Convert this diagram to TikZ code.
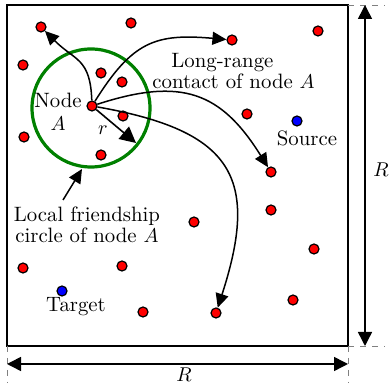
\documentclass[tikz,border=0pt]{standalone}
\usetikzlibrary{arrows.meta}
\definecolor{circgreen}{RGB}{0,128,0}
\begin{document}
\begin{tikzpicture}[x=0.5pt,y=-0.5pt,
  dot/.style={circle,draw=black,fill=red,line width=0.6pt,inner sep=0pt,minimum size=5pt},
  bdot/.style={dot,fill=blue},
  arr/.style={-{Triangle[length=7pt,width=6.5pt]},line width=0.75pt},
  dimarr/.style={{Triangle[length=7pt,width=7pt]}-{Triangle[length=7pt,width=7pt]},line width=0.75pt},
  guide/.style={dashed,gray,line width=0.4pt},
  lbl/.style={font=\fontsize{10.4}{10.5}\selectfont,inner sep=0pt,align=center}]
\useasboundingbox (0,0) rectangle (391,383);
% frame
\draw[line width=0.9pt] (7,5) rectangle (348,346);
% guide lines
\coordinate (tr) at (348,5);
\coordinate (br) at (348,346);
\coordinate (bl) at (7,346);
\draw[guide] (tr) -- (385,5);
\draw[guide] (br) -- (385,346);
\draw[guide] (br) -- (348,383);
\draw[guide] (bl) -- (7,383);
% dimension arrows
\coordinate (vt) at (365,5);
\coordinate (vb) at (365,346);
\coordinate (hl) at (7,364);
\coordinate (hr) at (348,364);
\draw[dimarr] (vt) -- (vb);
\draw[dimarr] (hl) -- (hr);
\node[lbl] (Rv) at (381,170) {$R$};
\node[lbl] (Rh) at (184,375) {$R$};
% circle
\draw[circgreen,line width=1.6pt] (91,108) circle[radius=59];
% dots
\node[dot] (A) at (92,106) {};
\node[dot] (d1) at (41,27) {};
\node[dot] (d2) at (131,23) {};
\node[dot] (d3) at (23,65) {};
\node[dot] (d4) at (101,73) {};
\node[dot] (d5) at (122,82) {};
\node[dot] (d6) at (123,116) {};
\node[dot] (d7) at (24,137) {};
\node[dot] (d8) at (101,155) {};
\node[dot] (d9) at (232,40) {};
\node[dot] (d10) at (318,31) {};
\node[dot] (d11) at (247,114) {};
\node[dot] (d12) at (271,172) {};
\node[dot] (d13) at (23,268) {};
\node[dot] (d14) at (122,266) {};
\node[dot] (d15) at (194,222) {};
\node[dot] (d16) at (271,210) {};
\node[dot] (d17) at (314,249) {};
\node[dot] (d18) at (293,300) {};
\node[dot] (d19) at (216,313) {};
\node[dot] (d20) at (143,312) {};
\node[bdot] (src) at (297,121) {};
\node[bdot] (tgt) at (62,291) {};
% labels
\node[lbl] (nodeA) at (58,112) {Node\\[1pt]$A$};
\node[lbl,align=left,anchor=west] (lr) at (152,71) {\hspace*{9.5pt}Long-range\\contact of node $A$};
\node[lbl] (srcl) at (307,138) {Source};
\node[lbl] (tgtl) at (76,307) {Target};
\node[lbl] (lf) at (87,225) {Local friendship\\circle of node $A$};
\node[lbl] (rl) at (103,130) {$r$};
% arrows
\coordinate (rend) at (136,143);
\draw[-{Triangle[length=8pt,width=8pt]},line width=0.8pt] (A) -- (rend);
\coordinate (lfs) at (63,200);
\coordinate (lfe) at (82,169);
\draw[arr] (lfs) -- (lfe);
\draw[arr] (A) to[out=92,in=-45,looseness=1.3] (d1);
\draw[arr] (A) to[out=58,in=175,looseness=1.25] (d9);
\draw[arr] (A) to[out=18,in=122,looseness=1.25] (d12);
\draw[arr] (A) to[out=-10,in=72,looseness=1.5] (d19);
\end{tikzpicture}
\end{document}
